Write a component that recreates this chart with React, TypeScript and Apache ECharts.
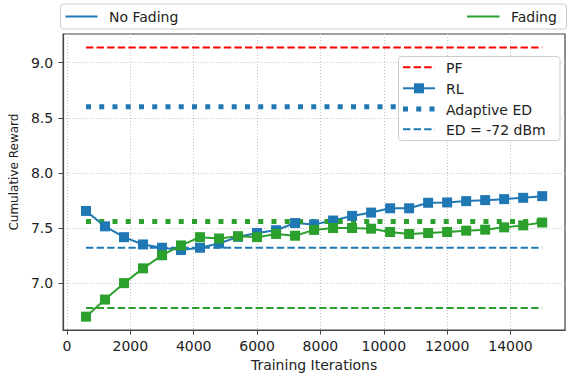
import React, { useEffect, useRef } from "react";
import * as echarts from "echarts";

const iterations = [600, 1200, 1800, 2400, 3000, 3600, 4200, 4800, 5400, 6000, 6600, 7200, 7800, 8400, 9000, 9600, 10200, 10800, 11400, 12000, 12600, 13200, 13800, 14400, 15000];
const rlNoFading = [7.655, 7.515, 7.417, 7.351, 7.321, 7.3, 7.321, 7.36, 7.42, 7.455, 7.48, 7.545, 7.533, 7.568, 7.61, 7.64, 7.679, 7.679, 7.729, 7.732, 7.744, 7.753, 7.762, 7.774, 7.789];
const rlFading = [6.696, 6.851, 7.0, 7.134, 7.253, 7.342, 7.417, 7.405, 7.426, 7.417, 7.446, 7.43, 7.483, 7.5, 7.5, 7.494, 7.464, 7.446, 7.455, 7.464, 7.476, 7.485, 7.506, 7.524, 7.55];
const pfValue = 9.138;
const adaptiveNoFading = 8.6;
const adaptiveFading = 7.56;
const edNoFading = 7.321;
const edFading = 6.774;
const xTicks = [0, 2000, 4000, 6000, 8000, 10000, 12000, 14000];
const yTicks = [7.0, 7.5, 8.0, 8.5, 9.0];

const BLUE = "#1f77b4";
const GREEN = "#2ca02c";
const RED = "#ff0000";
const FONT = "DejaVu Sans";
const DASH = [7.4, 3.2];
const DOT = [5, 8.25];

const flat = (v: number) => [
  [iterations[0], v],
  [iterations[iterations.length - 1], v],
];

export default function App() {
  const ref = useRef<HTMLDivElement>(null);
  useEffect(() => {
    const chart = echarts.init(ref.current!, null, { renderer: "svg" });
    const lineSeries = (name: string, v: number, color: string, width: number, type: any) => ({
      name,
      type: "line",
      data: flat(v),
      symbol: "none",
      z: 2,
      lineStyle: { color, width, type, cap: "butt" },
      silent: true,
    });
    const rlSeries = (name: string, vals: number[], color: string) => ({
      name,
      type: "line",
      data: iterations.map((x, i) => [x, vals[i]]),
      symbol: "rect",
      symbolSize: 10,
      showAllSymbol: true,
      z: 2,
      lineStyle: { color, width: 2 },
      itemStyle: { color },
    });
    const txt = (x: number, y: number, text: string) => ({
      type: "text",
      z: 101,
      x,
      y,
      style: { text, fontSize: 14, fontFamily: FONT, fill: "#222", verticalAlign: "middle", align: "left" },
    });
    const option: any = {
      animation: false,
      textStyle: { fontFamily: FONT },
      grid: {
        left: 60,
        top: 34,
        right: 3,
        bottom: 44,
        show: true,
        borderColor: "#444",
        borderWidth: 1.2,
        backgroundColor: "transparent",
      },
      xAxis: {
        type: "value",
        min: -120,
        max: 15720,
        name: "Training Iterations",
        nameLocation: "middle",
        nameGap: 26,
        nameTextStyle: { fontSize: 14, color: "#222", fontFamily: FONT },
        axisLine: { show: true, onZero: false, lineStyle: { color: "#444", width: 1.2 } },
        axisTick: { show: true, length: 4.5, customValues: xTicks, lineStyle: { color: "#444", width: 1 } },
        axisLabel: {
          customValues: xTicks,
          fontSize: 14,
          color: "#222",
          margin: 9,
          fontFamily: FONT,
          formatter: (v: number) => String(v),
        },
        splitLine: { show: true, lineStyle: { color: "#c4c4c4", width: 1, type: [1, 2] } },
      },
      yAxis: {
        type: "value",
        min: 6.574,
        max: 9.26,
        name: "Cumulative Reward",
        nameLocation: "middle",
        nameGap: 43,
        nameTextStyle: { fontSize: 12, color: "#222", fontFamily: FONT, padding: [0, 0, 0, 20] },
        axisLine: { show: true, onZero: false, lineStyle: { color: "#444", width: 1.2 } },
        axisTick: { show: true, length: 4.5, customValues: yTicks, lineStyle: { color: "#444", width: 1 } },
        axisLabel: {
          customValues: yTicks,
          fontSize: 14,
          color: "#222",
          margin: 10,
          fontFamily: FONT,
          formatter: (v: number) => v.toFixed(1),
        },
        splitLine: { show: true, lineStyle: { color: "#c4c4c4", width: 1, type: [1, 2] } },
      },
      series: [
        lineSeries("PF", pfValue, RED, 2, DASH),
        rlSeries("RL", rlNoFading, BLUE),
        lineSeries("Adaptive ED", adaptiveNoFading, BLUE, 5, DOT),
        lineSeries("ED = -72 dBm", edNoFading, BLUE, 2, DASH),
        rlSeries("RL (Fading)", rlFading, GREEN),
        lineSeries("Adaptive ED (Fading)", adaptiveFading, GREEN, 5, DOT),
        lineSeries("ED = -72 dBm (Fading)", edFading, GREEN, 2, DASH),
      ],
      graphic: {
        z: 100,
        zlevel: 0,
        elements: [
          // top legend
          {
            type: "rect",
            z: 100,
            shape: { x: 60.5, y: 4, width: 506, height: 25, r: 3 },
            style: { fill: "#ffffff", stroke: "#cccccc", lineWidth: 1 },
          },
          { type: "line", z: 101, shape: { x1: 65.5, y1: 16.5, x2: 97.5, y2: 16.5 }, style: { stroke: BLUE, lineWidth: 2 } },
          txt(109, 17, "No Fading"),
          { type: "line", z: 101, shape: { x1: 467, y1: 16.5, x2: 499.5, y2: 16.5 }, style: { stroke: GREEN, lineWidth: 2 } },
          txt(511, 17, "Fading"),
          // inner legend
          {
            type: "rect",
            z: 100,
            shape: { x: 398.5, y: 56.5, width: 161.5, height: 84, r: 3 },
            style: { fill: "#ffffff", stroke: "#cccccc", lineWidth: 1 },
          },
          { type: "line", z: 101, shape: { x1: 403, y1: 67.3, x2: 435, y2: 67.3 }, style: { stroke: RED, lineWidth: 2, lineDash: DASH } },
          txt(446, 67.8, "PF"),
          { type: "line", z: 101, shape: { x1: 403, y1: 88.3, x2: 435, y2: 88.3 }, style: { stroke: BLUE, lineWidth: 2 } },
          { type: "rect", z: 102, shape: { x: 414, y: 83.3, width: 10, height: 10 }, style: { fill: BLUE } },
          txt(446, 88.8, "RL"),
          { type: "line", z: 101, shape: { x1: 403, y1: 109, x2: 435, y2: 109 }, style: { stroke: BLUE, lineWidth: 5, lineDash: DOT } },
          txt(446, 109.5, "Adaptive ED"),
          { type: "line", z: 101, shape: { x1: 403, y1: 129.3, x2: 435, y2: 129.3 }, style: { stroke: BLUE, lineWidth: 2, lineDash: DASH } },
          txt(446, 129.8, "ED = -72 dBm"),
        ],
      },
    };
    chart.setOption(option);
    return () => chart.dispose();
  }, []);
  return <div ref={ref} style={{ position: "absolute", left: 0, top: 0, width: 568, height: 377 }} />;
}
